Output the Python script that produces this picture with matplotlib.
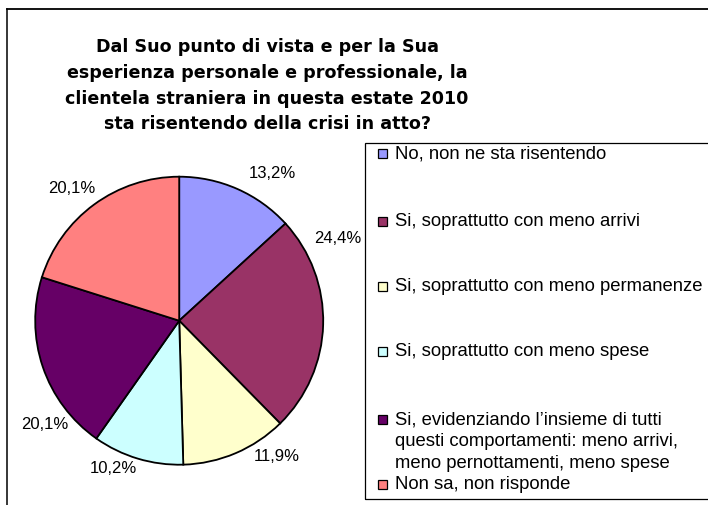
import matplotlib
matplotlib.use("Agg")
import matplotlib.pyplot as plt
from matplotlib.patches import Rectangle
from matplotlib.lines import Line2D

# ---- data ----
categories = [
    "No, non ne sta risentendo",
    "Si, soprattutto con meno arrivi",
    "Si, soprattutto con meno permanenze",
    "Si, soprattutto con meno spese",
    "Si, evidenziando l\u2019insieme di tutti\nquesti comportamenti: meno arrivi,\nmeno pernottamenti, meno spese",
    "Non sa, non risponde",
]
values = [13.2, 24.4, 11.9, 10.2, 20.1, 20.1]
value_labels = ["13,2%", "24,4%", "11,9%", "10,2%", "20,1%", "20,1%"]
colors = ["#9999FF", "#993366", "#FFFFCC", "#CCFFFF", "#660066", "#FF8080"]
title_lines = [
    "Dal Suo punto di vista e per la Sua",
    "esperienza personale e professionale, la",
    "clientela straniera in questa estate 2010",
    "sta risentendo della crisi in atto?",
]

# ---- layout (pixels) ----
W, H = 708, 506
def fx(x): return x / W
def fy(y): return 1 - y / H

# label positions (data coords, pie radius = 1)
label_pos = [(0.644, 1.031), (1.104, 0.581), (0.678, -0.9375),
             (-0.458, -1.016), (-0.931, -0.717), (-0.745, 0.926)]

fig = plt.figure(figsize=(W / 100, H / 100), dpi=100)
fig.patch.set_facecolor("white")

# outer chart border (left & top visible)
fig.add_artist(Line2D([fx(7), fx(7)], [fy(9.5), fy(510)], color="black", lw=1.1,
                      transform=fig.transFigure))
fig.add_artist(Line2D([fx(7), fx(712)], [fy(9.5), fy(9.5)], color="black", lw=1.3,
                      transform=fig.transFigure))

# title
title_y = [47, 73, 99, 124]
for line, y in zip(title_lines, title_y):
    fig.text(fx(267), fy(y), line, ha="center", va="center", fontsize=12.6,
             fontweight="bold", family="DejaVu Sans", color="black")

# pie
cx, cy, r = 179.2, 321.7, 144
ax = fig.add_axes([fx(cx - r), fy(cy + r), 2 * r / W, 2 * r / H])
wedges, _ = ax.pie(values, colors=colors, startangle=90, counterclock=False,
                   radius=1.0,
                   wedgeprops=dict(edgecolor="black", linewidth=1.3))
ax.set_xlim(-1, 1)
ax.set_ylim(-1, 1)
ax.set_aspect("auto")
ax.axis("off")
for lbl, (lx, ly) in zip(value_labels, label_pos):
    ax.text(lx, ly, lbl, ha="center", va="center", fontsize=12,
            family="Liberation Sans", color="black", clip_on=False)

# legend (manual, Excel style)
fig.add_artist(Rectangle((fx(365), fy(500)), fx(712) - fx(365), fy(144.3) - fy(500),
                         transform=fig.transFigure, facecolor="none",
                         edgecolor="black", lw=0.9))
entry_y = [154, 222, 287, 352, 420, 485]
line_gap = 21.7
for cat, col, y in zip(categories, colors, entry_y):
    fig.add_artist(Rectangle((fx(378.5), fy(y + 4.5)), 9 / W, 9 / H,
                             transform=fig.transFigure, facecolor=col,
                             edgecolor="black", lw=0.9))
    for i, sub in enumerate(cat.split("\n")):
        fig.text(fx(395), fy(y + i * line_gap), sub, ha="left", va="center",
                 fontsize=13.3, family="Liberation Sans", color="black")

fig.savefig("out.png", dpi=100, facecolor="white")
